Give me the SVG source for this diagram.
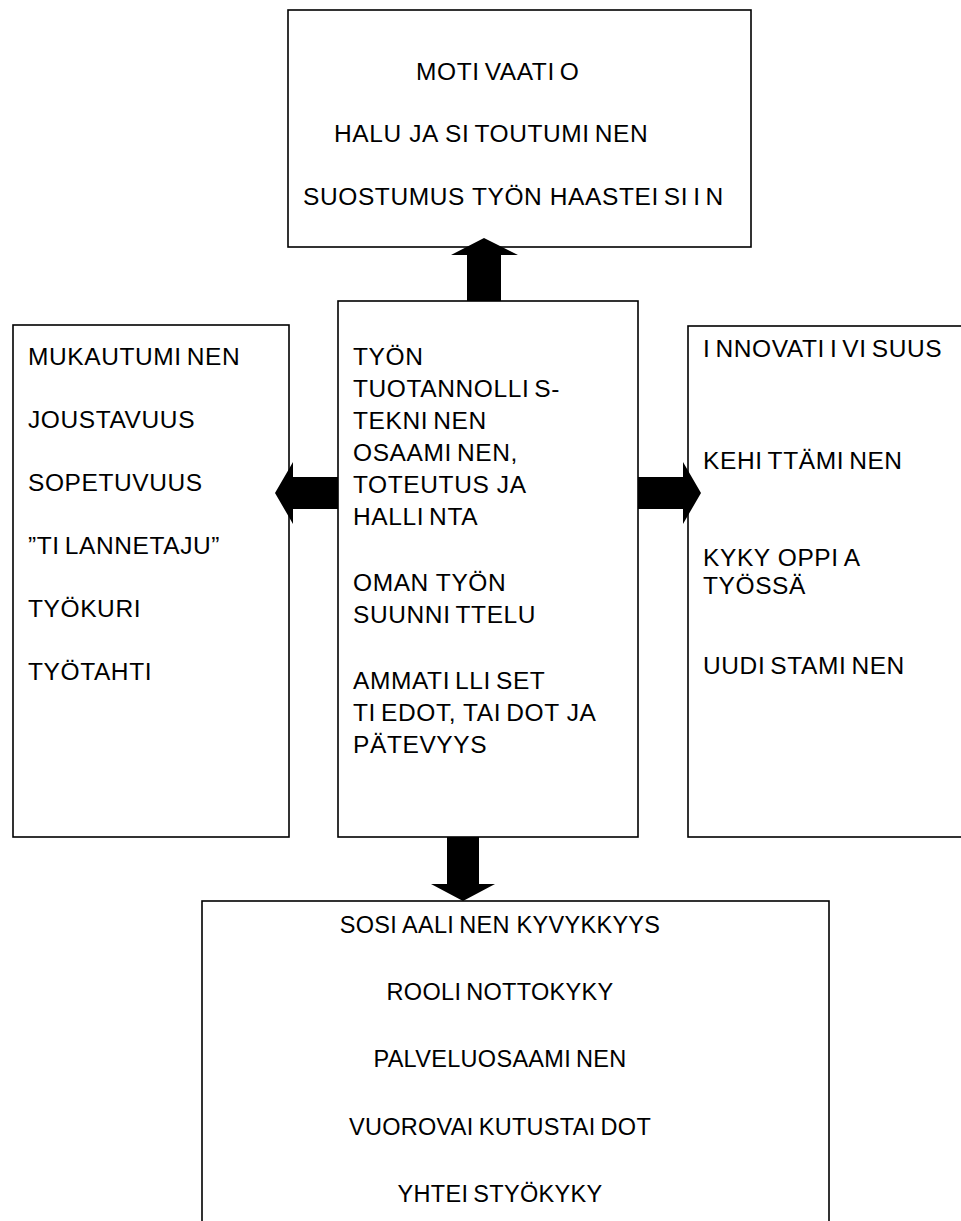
<svg xmlns="http://www.w3.org/2000/svg" width="961" height="1221" viewBox="0 0 961 1221">
<style>
.box{fill:#fff;stroke:#000;stroke-width:1.6}
.arr{fill:#000;stroke:none}
text{font-family:"Liberation Sans",Arial,sans-serif;font-size:24.5px;fill:#000;letter-spacing:0.6px}
.i{letter-spacing:5.6px}
.bt text{font-size:23.5px;letter-spacing:0.3px;text-anchor:middle}
.bt .i{letter-spacing:5.3px}
</style>
<rect x="0" y="0" width="961" height="1221" fill="#fff"/>
<g id="motivaatio">
<rect class="box" x="288" y="10" width="463" height="237"/>
<text x="416" y="80">MOT<tspan class="i">I</tspan>VAAT<tspan class="i">I</tspan>O</text>
<text x="334" y="142">HALU JA S<tspan class="i">I</tspan>TOUTUM<tspan class="i">I</tspan>NEN</text>
<text x="303" y="205">SUOSTUMUS TYÖN HAASTE<tspan class="i">I</tspan>S<tspan class="i">I</tspan><tspan class="i">I</tspan>N</text>
</g>
<g id="osaaminen">
<rect class="box" x="338" y="301" width="300" height="536"/>
<text x="353" y="365">TYÖN</text>
<text x="353" y="397">TUOTANNOLL<tspan class="i">I</tspan>S-</text>
<text x="353" y="429">TEKN<tspan class="i">I</tspan>NEN</text>
<text x="353" y="461">OSAAM<tspan class="i">I</tspan>NEN,</text>
<text x="353" y="493">TOTEUTUS JA</text>
<text x="353" y="525">HALL<tspan class="i">I</tspan>NTA</text>
<text x="353" y="591">OMAN TYÖN</text>
<text x="353" y="623">SUUNN<tspan class="i">I</tspan>TTELU</text>
<text x="353" y="689">AMMAT<tspan class="i">I</tspan>LL<tspan class="i">I</tspan>SET</text>
<text x="353" y="721">T<tspan class="i">I</tspan>EDOT, TA<tspan class="i">I</tspan>DOT JA</text>
<text x="353" y="753">PÄTEVYYS</text>
</g>
<g id="mukautuminen">
<rect class="box" x="13" y="325" width="276" height="512"/>
<text x="28" y="365">MUKAUTUM<tspan class="i">I</tspan>NEN</text>
<text x="28" y="428">JOUSTAVUUS</text>
<text x="28" y="491">SOPETUVUUS</text>
<text x="28" y="554">”T<tspan class="i">I</tspan>LANNETAJU”</text>
<text x="28" y="617">TYÖKURI</text>
<text x="28" y="680">TYÖTAHTI</text>
</g>
<g id="innovatiivisuus">
<rect class="box" x="688" y="326" width="280" height="511"/>
<text x="703" y="357"><tspan class="i">I</tspan>NNOVAT<tspan class="i">I</tspan><tspan class="i">I</tspan>V<tspan class="i">I</tspan>SUUS</text>
<text x="703" y="469">KEH<tspan class="i">I</tspan>TTÄM<tspan class="i">I</tspan>NEN</text>
<text x="703" y="566">KYKY OPP<tspan class="i">I</tspan>A</text>
<text x="703" y="594">TYÖSSÄ</text>
<text x="703" y="674">UUD<tspan class="i">I</tspan>STAM<tspan class="i">I</tspan>NEN</text>
</g>
<g id="sosiaalinen" class="bt">
<rect class="box" x="202" y="901" width="627" height="340"/>
<text x="500" y="933">SOS<tspan class="i">I</tspan>AAL<tspan class="i">I</tspan>NEN KYVYKKYYS</text>
<text x="500" y="1000">ROOL<tspan class="i">I</tspan>NOTTOKYKY</text>
<text x="500" y="1067">PALVELUOSAAM<tspan class="i">I</tspan>NEN</text>
<text x="500" y="1135">VUOROVA<tspan class="i">I</tspan>KUTUSTA<tspan class="i">I</tspan>DOT</text>
<text x="500" y="1202">YHTE<tspan class="i">I</tspan>STYÖKYKY</text>
</g>
<g id="connectors">
<polygon class="arr" points="467,301 467,255 451,255 484,238 518,255 501,255 501,301"/>
<polygon class="arr" points="338,477 293,477 293,462 275,493 293,524 293,509 338,509"/>
<polygon class="arr" points="638,477 683,477 683,462 701,493 683,524 683,509 638,509"/>
<polygon class="arr" points="447,837 447,884 431,884 463,901 495,884 479,884 479,837"/>
</g>
</svg>
